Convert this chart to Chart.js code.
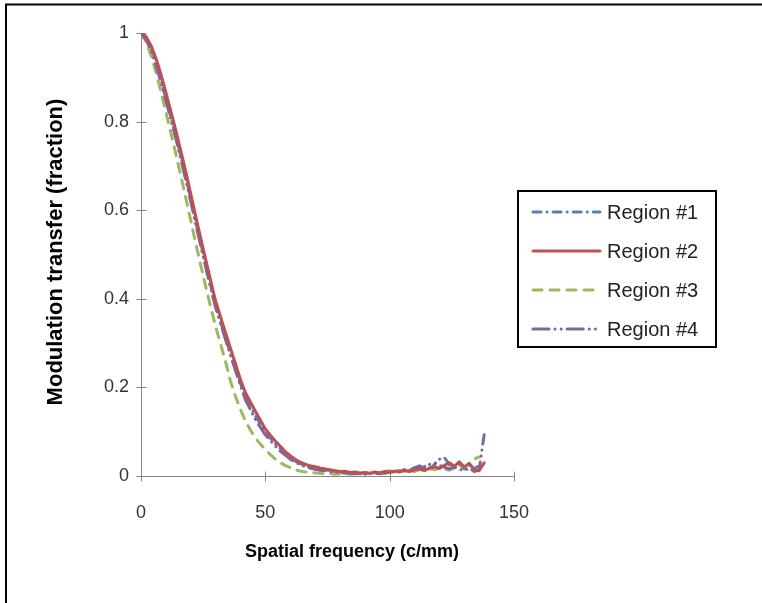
<!DOCTYPE html>
<html>
<head>
<meta charset="utf-8">
<script src="https://cdn.jsdelivr.net/npm/chart.js@4/dist/chart.umd.min.js"></script>
<style>
  html, body { margin: 0; padding: 0; background: #fff; }
  #wrap { position: relative; width: 762px; height: 603px; }
</style>
</head>
<body>
<div id="wrap"><canvas id="c" width="762" height="603"></canvas></div>
<script>
// ---- data ----
const freq = [0,2,4,6,8,10,12,14,16,18,20,22,24,26,28,30,32,34,36,38,40,42,44,46,48,50,52,54,56,58,60,62,64,66,68,70,72,74,76,78,80,82,84,86,88,90,92,94,96,98,100,102,104,106,108,110,112,114,116,118,120,122,124,126,128,130,132,134,136,138];

const region1 = [1.000,0.988,0.965,0.932,0.895,0.853,0.810,0.768,0.722,0.676,0.626,0.574,0.527,0.478,0.430,0.385,0.348,0.312,0.277,0.243,0.209,0.180,0.158,0.136,0.118,0.099,0.086,0.073,0.062,0.051,0.042,0.034,0.028,0.024,0.020,0.018,0.015,0.013,0.012,0.010,0.008,0.010,0.006,0.008,0.005,0.007,0.006,0.008,0.005,0.009,0.007,0.010,0.012,0.009,0.014,0.011,0.017,0.022,0.015,0.026,0.038,0.042,0.025,0.019,0.027,0.016,0.024,0.018,0.022];

const region2 = [1.000,0.992,0.972,0.943,0.907,0.866,0.823,0.780,0.734,0.687,0.637,0.586,0.537,0.489,0.441,0.395,0.359,0.323,0.288,0.253,0.218,0.188,0.167,0.146,0.126,0.106,0.092,0.079,0.067,0.055,0.046,0.038,0.031,0.027,0.023,0.021,0.018,0.016,0.014,0.012,0.010,0.011,0.008,0.009,0.007,0.008,0.006,0.009,0.007,0.010,0.008,0.011,0.009,0.013,0.010,0.014,0.016,0.012,0.018,0.021,0.017,0.024,0.030,0.022,0.032,0.020,0.028,0.015,0.012,0.030];

const region3 = [1.000,0.980,0.950,0.912,0.868,0.822,0.775,0.727,0.678,0.628,0.577,0.526,0.476,0.428,0.382,0.338,0.298,0.258,0.214,0.180,0.150,0.124,0.104,0.086,0.072,0.060,0.048,0.038,0.030,0.024,0.019,0.014,0.011,0.009,0.008,0.007,0.006,0.005,0.006,0.004,0.005,0.006,0.004,0.005,0.007,0.005,0.006,0.008,0.006,0.010,0.012,0.009,0.013,0.011,0.014,0.010,0.015,0.012,0.017,0.014,0.019,0.016,0.013,0.018,0.024,0.020,0.029,0.038,0.043];

const region4 = [1.000,0.985,0.962,0.928,0.890,0.848,0.805,0.762,0.716,0.668,0.620,0.569,0.520,0.472,0.425,0.380,0.344,0.308,0.272,0.238,0.204,0.172,0.150,0.128,0.110,0.093,0.080,0.068,0.056,0.047,0.038,0.031,0.026,0.021,0.018,0.015,0.013,0.012,0.010,0.009,0.008,0.006,0.007,0.005,0.006,0.004,0.006,0.005,0.007,0.006,0.009,0.012,0.010,0.015,0.013,0.019,0.023,0.018,0.026,0.030,0.024,0.020,0.016,0.021,0.015,0.012,0.018,0.010,0.014,0.093];

const seriesNames = ['Region #1','Region #2','Region #3','Region #4'];
const xTicks = [0, 50, 100, 150];
const yTicks = [0, 0.2, 0.4, 0.6, 0.8, 1];
const xTitle = 'Spatial frequency (c/mm)';
const yTitle = 'Modulation transfer (fraction)';

// ---- build ----
const FONT = '"Liberation Sans", Arial, Helvetica, sans-serif';
function pts(vals){ return vals.map((v,i)=>({x:freq[i], y:v})); }

const styles = [
  {color:'#4F81BD', dash:[8,6,0.1,6], order:3},
  {color:'#C0504D', dash:[], order:0},
  {color:'#9BBB59', dash:[9,8], order:2},
  {color:'#8064A2', dash:[16,6,0.1,6,0.1,6], order:1}
];
const allVals = [region1, region2, region3, region4];

const datasets = allVals.map((vals,i)=>({
  label: seriesNames[i],
  data: pts(vals),
  borderColor: styles[i].color,
  backgroundColor: styles[i].color,
  borderWidth: 3,
  borderDash: styles[i].dash,
  borderCapStyle: 'round',
  borderJoinStyle: 'round',
  pointRadius: 0,
  tension: 0,
  fill: false,
  order: styles[i].order
}));

const frame = {
  id: 'frame',
  beforeDraw(chart){
    const ctx = chart.ctx;
    ctx.save();
    ctx.fillStyle = '#fff';
    ctx.fillRect(0,0,chart.width,chart.height);
    ctx.strokeStyle = '#000';
    ctx.lineWidth = 2;
    ctx.beginPath();
    ctx.moveTo(6, 603); ctx.lineTo(6, 4.5); ctx.lineTo(762, 4.5);
    ctx.stroke();
    ctx.restore();
  },
  beforeDatasetsDraw(chart){
    const ctx = chart.ctx;
    const xs = chart.scales.x, ys = chart.scales.y;
    const x0 = Math.round(xs.getPixelForValue(0)) + 0.5;
    const y0 = Math.round(ys.getPixelForValue(0)) + 0.5;
    ctx.save();
    ctx.strokeStyle = '#878787';
    ctx.lineWidth = 1;
    ctx.beginPath();
    ctx.moveTo(x0, Math.round(ys.getPixelForValue(1))+0.5);
    ctx.lineTo(x0, y0);
    ctx.lineTo(Math.round(xs.getPixelForValue(150))+0.5, y0);
    yTicks.forEach(v=>{
      const y = Math.round(ys.getPixelForValue(v))+0.5;
      ctx.moveTo(x0-5, y); ctx.lineTo(x0+5, y);
    });
    xTicks.forEach(v=>{
      const x = Math.round(xs.getPixelForValue(v))+0.5;
      ctx.moveTo(x, y0-5); ctx.lineTo(x, y0+5);
    });
    ctx.stroke();
    // axis titles
    ctx.fillStyle = '#000';
    ctx.textAlign = 'center';
    ctx.textBaseline = 'middle';
    ctx.font = 'bold 18px ' + FONT;
    ctx.fillText(xTitle, 352, 552);
    ctx.translate(56, 252);
    ctx.rotate(-Math.PI/2);
    ctx.font = 'bold 22px ' + FONT;
    ctx.fillText(yTitle, 0, 0);
    ctx.restore();
  },
  afterDraw(chart){
    const ctx = chart.ctx;
    ctx.save();
    // legend box
    ctx.fillStyle = '#fff';
    ctx.fillRect(518,191,198,156);
    ctx.strokeStyle = '#000';
    ctx.lineWidth = 2;
    ctx.strokeRect(518,191,198,156);
    const rows = [212, 251, 290, 329];
    chart.data.datasets.forEach((ds,i)=>{
      const y = rows[i];
      ctx.beginPath();
      ctx.strokeStyle = ds.borderColor;
      ctx.lineWidth = 3;
      ctx.lineCap = 'round';
      ctx.setLineDash(ds.borderDash);
      ctx.moveTo(533, y); ctx.lineTo(600, y);
      ctx.stroke();
      ctx.setLineDash([]);
      ctx.fillStyle = '#222';
      ctx.font = '20px ' + FONT;
      ctx.textBaseline = 'middle';
      ctx.textAlign = 'left';
      ctx.fillText(ds.label, 607, y+1);
    });
    ctx.restore();
  }
};

new Chart(document.getElementById('c'), {
  type: 'line',
  data: { datasets },
  options: {
    responsive: false,
    animation: false,
    events: [],
    layout: { padding: { left: 0, top: 33, right: 248, bottom: 0 } },
    plugins: { legend: { display: false }, tooltip: { enabled: false }, title: { display: false } },
    scales: {
      x: {
        type: 'linear', min: 0, max: 150,
        afterBuildTicks(s){ s.ticks = xTicks.map(v=>({value:v})); },
        afterFit(s){ s.height = 127; },
        grid: { display: false, drawTicks: false },
        border: { display: false },
        ticks: { padding: 26, color: '#333', font: { family: FONT, size: 18 }, maxRotation: 0,
                 callback: v => String(+Number(v).toFixed(2)) },
        title: { display: false }
      },
      y: {
        type: 'linear', min: 0, max: 1,
        afterBuildTicks(s){ s.ticks = yTicks.map(v=>({value:v})); },
        afterFit(s){ s.width = 141; },
        grid: { display: false, drawTicks: false },
        border: { display: false },
        ticks: { padding: 12, color: '#333', font: { family: FONT, size: 18 },
                 callback: v => String(+Number(v).toFixed(2)) },
        title: { display: false }
      }
    }
  },
  plugins: [frame]
});
</script>
</body>
</html>
